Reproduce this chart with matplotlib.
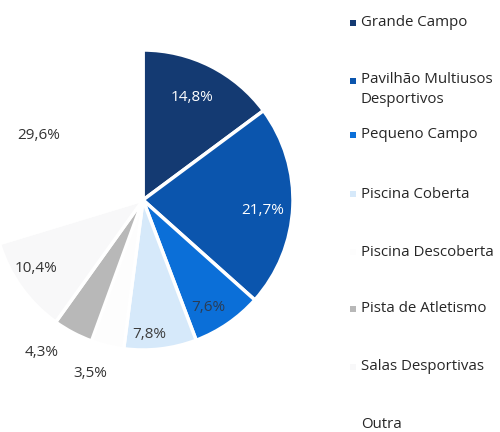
import matplotlib
matplotlib.use("Agg")
import matplotlib.pyplot as plt
import numpy as np

categories = ["Grande Campo", "Pavilhão Multiusos\nDesportivos", "Pequeno Campo",
              "Piscina Coberta", "Piscina Descoberta", "Pista de Atletismo",
              "Salas Desportivas", "Outra"]
values = [14.8, 21.7, 7.6, 7.8, 3.5, 4.3, 10.4, 29.6]
labels = ["14,8%", "21,7%", "7,6%", "7,8%", "3,5%", "4,3%", "10,4%", "29,6%"]

colors = ["#143a72", "#0b55ad", "#0b6fd8", "#d6e9fa", "#fdfdfd",
          "#b8b8b8", "#f8f8f9", "#ffffff"]
label_colors = ["white", "white", "#2b3d55", "#3c3c3c", "#333333",
                "#333333", "#333333", "#333333"]
# radial distance (fraction of radius) and angular nudge (degrees) per label
label_dist = [0.76, 0.80, 0.84, 0.90, 1.21, 1.22, 0.85, 0.82]
label_nudge = [-1, 2.5, 3, 4, 3, 6, 3, -5]
explode = [0, 0, 0, 0, 0, 0.10, 0, 0]

plt.rcParams["font.family"] = ["Open Sans", "DejaVu Sans"]

fig = plt.figure(figsize=(5.0, 4.32), dpi=100)
ax = fig.add_axes([0, 0, 1, 1])

cx, cy, R = 143, 232, 150
wedges, _ = ax.pie(values, colors=colors, startangle=90, counterclock=False,
                   center=(cx, cy), radius=R, explode=explode,
                   wedgeprops=dict(edgecolor="white", linewidth=2.5))
ax.set_xlim(0, 500)
ax.set_ylim(0, 432)
ax.set_aspect("equal")
ax.axis("off")

total = sum(values)
start = 90.0
for v, lab, col, d, nd in zip(values, labels, label_colors, label_dist, label_nudge):
    span = 360.0 * v / total
    mid = np.deg2rad(start - span / 2 - nd)
    ax.text(cx + d * R * np.cos(mid), cy + d * R * np.sin(mid), lab,
            ha="center", va="center", fontsize=11, color=col)
    start -= span

# legend entries on the right
legend_y = [409, 351, 297, 238, 180, 123, 65, 7]
for name, col, y in zip(categories, colors, legend_y):
    ax.scatter([353], [y], marker="s", s=14, color=col, linewidths=0)
    if "\n" in name:
        ax.text(361, y + 9, name, ha="left", va="top",
                fontsize=10.8, color="#262626", linespacing=1.45)
    else:
        ax.text(361, y, name, ha="left", va="center",
                fontsize=10.8, color="#262626")

fig.savefig("out.png", dpi=100)
